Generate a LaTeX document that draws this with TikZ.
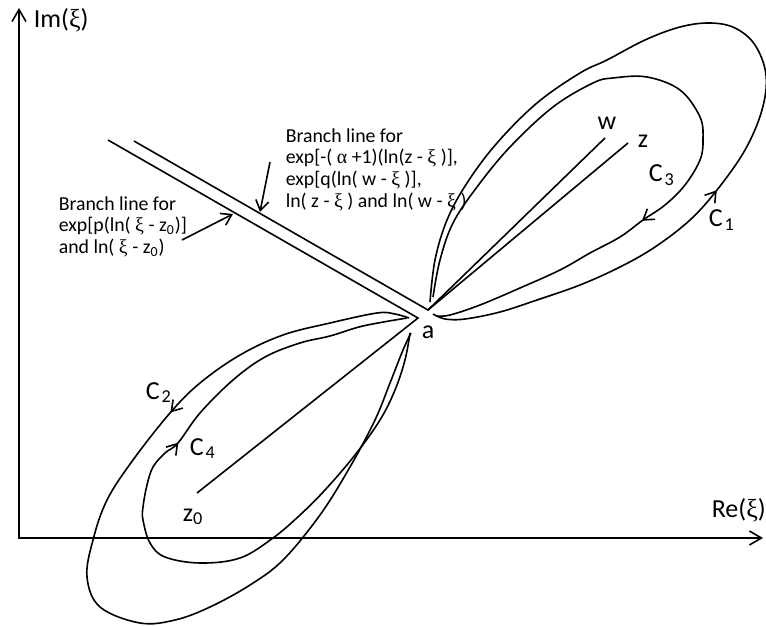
\documentclass[tikz,border=0pt]{standalone}
\usepackage{fontspec}
\setmainfont{Carlito}
\newfontfamily\grkfont{Liberation Serif}
\usetikzlibrary{
  arrows.meta,          % Straight Barb tips
  decorations.markings  % arrows along the contours
}

\tikzset{
  vtip/.tip={Straight Barb[length=5pt,width=6.5pt]},
  axtip/.tip={Straight Barb[length=6pt,width=7pt]},
  contour/.style={line width=0.8pt},
  midarrow/.style={postaction={decorate},
    decoration={markings, mark=at position #1 with {\arrow{vtip}}}},
  lbl/.style={font=\fontsize{9.9}{10.9}\selectfont, inner sep=0pt},
  biglbl/.style={font=\fontsize{13}{15}\selectfont, inner sep=0pt},
}
\newcommand{\csub}[2]{#1\kern1pt\textsubscript{#2}}
\newcommand{\gk}[1]{{\grkfont #1}}

\begin{document}
\begin{tikzpicture}[x=0.5pt, y=-0.5pt, line width=0.8pt]
  \useasboundingbox (0,0) rectangle (766,626);

  % axes
  \coordinate (O) at (19,538);
  \coordinate (ymax) at (19,8);
  \coordinate (xmax) at (763,538);
  \draw[axtip-axtip] (ymax) |- (xmax);
  \node[biglbl, anchor=base west] (im) at (33,28) {Im(\gk{ξ})};
  \node[biglbl, anchor=base west] (re) at (711,517) {Re(\gk{ξ})};

  % branch points and cuts
  \coordinate (pA) at (428,310);
  \coordinate (pB) at (418,318);
  \coordinate (cutA) at (134,141);
  \coordinate (cutB) at (108,140);
  \coordinate (wpt) at (605,138);
  \coordinate (zpt) at (628,143);
  \coordinate (zopt) at (197,493);
  \draw (cutA) -- (pA) -- (wpt);
  \draw (pA) -- (zpt);
  \draw (cutB) -- (pB) -- (zopt);

  \node[biglbl, anchor=base] (a) at (428,338) {a};
  \node[biglbl, anchor=base] (w) at (607,130) {w};
  \node[biglbl, anchor=base] (z) at (643,148) {z};
  \node[biglbl, anchor=base west] (zo) at (182,521) {z\textsubscript{0}};

  % contour C1 (outer, upper right)
  \draw[contour, midarrow=0.335] plot[smooth, tension=0.6] coordinates {
    (433,314) (445,319) (465,319) (500,312) (537,300) (580,285) (620,267)
    (655,247) (690,220) (717,190) (745,150) (762,110) (766,75) (755,45)
    (735,28) (710,23) (680,27) (645,40) (607,60) (580,73) (537,103)
    (497,143) (467,183) (447,220) (435,260) (430,302)};
  % contour C3 (inner, upper right)
  \draw[contour, midarrow=0.70] plot[smooth, tension=0.6] coordinates {
    (433,297) (440,260) (453,223) (477,187) (510,147) (553,107) (593,83)
    (613,78) (647,77) (680,90) (700,117) (703,140) (700,160) (685,185)
    (665,205) (643,220) (620,237) (590,253) (560,270) (520,288) (480,305)
    (450,315) (437,316)};
  % contour C2 (outer, lower left)
  \draw[contour, midarrow=0.28] plot[smooth, tension=0.6] coordinates {
    (409,318) (395,314) (377,313) (330,323) (283,335) (240,355) (200,383)
    (170,413) (133,460) (107,500) (93,540) (87,577) (100,607) (140,623)
    (175,620) (210,607) (250,585) (283,560) (320,515) (350,467) (375,420)
    (390,383) (403,350) (411,333)};
  % contour C4 (inner, lower left)
  \draw[contour, midarrow=0.65] plot[smooth, tension=0.6] coordinates {
    (410,333) (405,360) (395,390) (380,420) (355,455) (325,490) (300,515)
    (273,538) (240,558) (200,563) (165,557) (150,543) (143,520) (143,507)
    (147,485) (153,467) (165,453) (178,443) (200,413) (233,380) (265,357)
    (300,343) (330,336) (363,326) (407,318)};

  \node[biglbl, anchor=base west] (c1) at (708,227) {\csub{C}{1}};
  \node[biglbl, anchor=base west] (c2) at (145,399) {\csub{C}{2}};
  \node[biglbl, anchor=base west] (c3) at (648,182) {\csub{C}{3}};
  \node[biglbl, anchor=base west] (c4) at (189,455) {\csub{C}{4}};

  % labels of the cuts
  \node[lbl, anchor=base west] (cutlblA) at (285,142) {%
    \begin{tabular}[t]{@{}l@{}}
      Branch line for\\
      exp[-( \gk{α} +1)(ln(z - \gk{ξ} )],\\
      exp[q(ln( w - \gk{ξ} )],\\
      ln( z - \gk{ξ} ) and ln( w - \gk{ξ} )
    \end{tabular}};
  \node[lbl, anchor=base west] (cutlblB) at (58,210) {%
    \begin{tabular}[t]{@{}l@{}}
      Branch line for\\
      exp[p(ln( \gk{ξ} - z\textsubscript{0})]\\
      and ln( \gk{ξ} - z\textsubscript{0})
    \end{tabular}};
  \coordinate (tailB) at (182,240);
  \coordinate (headB) at (233,214);
  \coordinate (tailA) at (270,162);
  \coordinate (headA) at (260,212);
  \draw[-vtip] (tailB) -- (headB);
  \draw[-vtip] (tailA) -- (headA);
\end{tikzpicture}
\end{document}
